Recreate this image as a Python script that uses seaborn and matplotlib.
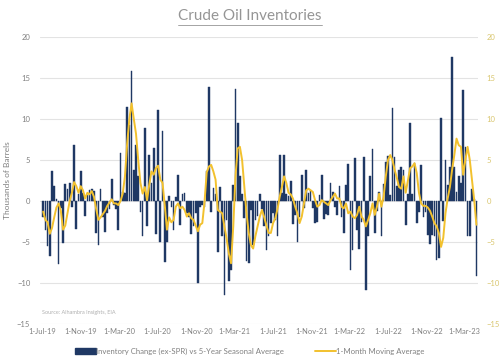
import matplotlib
matplotlib.use("Agg")
import pandas as pd
import matplotlib.pyplot as plt
import matplotlib.dates as mdates
from matplotlib.lines import Line2D
from matplotlib.patches import Patch
import seaborn as sns

# Weekly crude inventory change (ex-SPR) vs 5-yr seasonal avg
inv_change = [
    -2.0, -3.5, -5.5, -6.7, 3.7, 1.8, 0.3, -7.7, -0.8, -5.1, 2.1, 1.5, 2.2, -0.7, 6.8, -3.4,
    0.8, 3.6, 1.0, -1.8, 0.7, 1.3, 1.5, 1.2, -3.9, -5.4, 1.5, -2.0, -3.8, -1.5, -1.0, 2.7,
    -0.5, -1.0, -3.6, 5.8, 1.1, 1.0, 11.4, 9.3, 15.8, 3.8, 6.8, 3.0, -1.3, -4.3, 8.9, -3.1,
    5.6, 2.2, 6.5, -4.0, 11.1, -5.0, 8.5, -7.4, -5.0, 0.6, -0.7, -3.5, 0.5, 3.2, -2.9, 0.9,
    1.0, -1.5,
    -1.9, -4.0, -3.1, -1.5, -10.0, -0.7, -0.5, -0.7, 3.6, 13.9, -1.3, 1.6, 0.9, -6.2, 1.7, -4.3,
    -11.5, -2.3, -9.8, -8.4, 1.9, 13.7, 9.5, 3.0, 0.9, -2.1, -7.3, -7.6, -1.1, -5.4, -2.3, -1.8,
    0.9, -1.0,
    -3.1, -6.0, -4.3, -2.7, -1.5, -2.3, -4.3, 5.6, 1.0, 5.6, 0.9, 0.6, 2.4, -2.8, -1.7, -5.0,
    -2.0, 3.2, -0.9, 3.8, 1.0, 1.3, -0.8, -2.7, -2.6, 0.7, 3.2, -2.2, -1.6, -1.7, 2.2, 1.1, -0.7,
    -1.7, 1.8, -2.0, -3.9, 2.0, 4.5, -8.4, -6.0, 5.2, -3.5, -5.9, -2.6, 5.4, -10.9, -4.3, 3.0,
    6.3, -3.9, -1.2, 1.1, -4.3, 2.1, 4.7, 5.5, 0.7, 11.3, 5.4, 1.8, 3.8, 4.2, 3.8, -2.9, 0.9, 9.5,
    0.8, 4.6, -2.7, -1.3, 4.4, -1.9, -1.3, -4.1, -5.2, -4.1, -4.3, -7.2, -7.0, 10.1, -2.5, 5.0,
    2.0, 4.2, 17.5, 4.2, 1.1, 3.0, 2.2, 13.5, 6.6, -4.3, -4.3, 1.5, 0.3, -9.2,
]

# 1-month moving average line (secondary axis)
moving_avg = [
    -1.3, -2.3, -2.6, -4.0, -3.3, -2.0, -0.8, -0.3, -1.2, -3.5, -3.0, -1.5, 0.0, 1.0, 2.3, 1.8,
    1.0, 1.8, 1.3, 0.3, 1.0, 0.8, 1.2, 0.5, -1.0, -2.3, -2.0, -1.6, -1.2, -0.6, -0.2, 0.2,
    -0.3, -0.3, -0.5, 0.0, 0.9, 3.0, 7.0, 10.0, 11.9, 10.0, 8.2, 5.0, 2.2, 0.9, 1.7, 0.1,
    2.0, 3.6, 3.2, 4.0, 4.3, 2.6, 2.2, -0.5, -3.5, -2.0, -2.6, -2.3, -0.7, -0.3, -0.9, -0.7,
    -1.1, -1.9,
    -1.5, -2.1, -2.3, -3.0, -3.7, -2.9, -2.7, -0.1, 3.5, 4.2, 4.4, 3.6, 2.6, -1.1, -1.3, -1.5,
    -3.1, -4.6, -6.4, -7.6, -3.1, 3.0, 6.4, 6.6, 5.0, 1.7, -1.5, -3.9, -5.4, -5.8, -4.3, -3.1,
    -1.9, -1.1,
    -2.0, -3.0, -3.9, -3.9, -2.7, -2.1, -1.0, 0.5, 1.7, 3.0, 2.2, 1.0, 0.8, 0.3, -0.7, -1.5,
    -2.7, -1.9, -0.3, 1.3, 1.5, 1.3, 1.1, 0.1, -0.7, -0.5, 0.1, -0.1, -0.3, -0.5, 0.1, 0.5, 0.9,
    0.3, 0.3, -0.7, -0.9, -0.3, -1.5, -1.3, -1.9, -2.1, -1.7, -0.7, -1.9, -2.3, -3.1, -2.3, -1.5,
    -0.3, -1.7, -0.7, 0.9, -0.7, 0.5, 3.0, 5.0, 5.6, 5.0, 3.8, 2.8, 1.7, 1.5, 3.0, 1.0, 2.5, 4.0,
    4.2, 4.6, 3.4, 1.0, -0.3, -0.6, -0.6, -0.8, -1.2, -1.9, -2.7, -3.1, -3.9, -5.6, -4.5, -1.5,
    0.3, 1.7, 3.8, 5.6, 7.6, 6.8, 6.6, 3.2, 5.0, 6.6, 5.0, 2.6, 0.1, -2.9,
]

start_date = "2019-07-05"
tick_dates = ["2019-07-01", "2019-11-01", "2020-03-01", "2020-07-01", "2020-11-01", "2021-03-01",
              "2021-07-01", "2021-11-01", "2022-03-01", "2022-07-01", "2022-11-01", "2023-03-01"]
tick_labels = ["1-Jul-19", "1-Nov-19", "1-Mar-20", "1-Jul-20", "1-Nov-20", "1-Mar-21",
               "1-Jul-21", "1-Nov-21", "1-Mar-22", "1-Jul-22", "1-Nov-22", "1-Mar-23"]
y_ticks = [-15, -10, -5, 0, 5, 10, 15, 20]

NAVY = "#1f3864"
GOLD = "#f2c12e"
GREY = "#808080"
PALE_GOLD = "#d9c66e"

dates = pd.date_range(start_date, periods=len(inv_change), freq="7D")
df = pd.DataFrame({
    "x": mdates.date2num(dates),
    "change": inv_change,
    "ma": moving_avg,
})

sns.set_theme(style="white")
plt.rcParams["font.family"] = ["Lato", "DejaVu Sans"]

fig = plt.figure(figsize=(5, 3.62), dpi=100)
ax = fig.add_axes([0.08, 0.105, 0.876, 0.793])
ax2 = ax.twinx()

sns.barplot(data=df, x="x", y="change", native_scale=True, color=NAVY, saturation=1,
            width=0.75, errorbar=None, edgecolor=NAVY, linewidth=0.3, ax=ax)
sns.lineplot(data=df, x="x", y="ma", color=GOLD, linewidth=1.4, ax=ax2)

for a in (ax, ax2):
    a.set_ylim(-15, 20)
    a.set_yticks(y_ticks)
    a.set_xlim(mdates.date2num(pd.Timestamp("2019-06-25")), mdates.date2num(pd.Timestamp("2023-04-12")))
    for s in a.spines.values():
        s.set_visible(False)
    a.set_xlabel("")
    a.set_ylabel("")

ax.yaxis.grid(True, color="#e3e3e3", linewidth=0.8)
ax.set_axisbelow(True)
ax.set_xticks(mdates.date2num(pd.to_datetime(tick_dates)))
ax.set_xticklabels(tick_labels)
ax.tick_params(axis="x", length=0, labelsize=5.4, colors=GREY, pad=3)
ax.tick_params(axis="y", length=0, labelsize=5.5, colors=GREY, pad=7)
ax2.tick_params(axis="y", length=0, labelsize=5.5, colors=PALE_GOLD, pad=6)
ax.set_ylabel("Thousands of Barrels", fontsize=6, color=GREY, labelpad=4)

ax.text(0.004, 0.035, "Source: Alhambra Insights, EIA", transform=ax.transAxes,
        fontsize=4, color="#b0b0b0")

title = fig.text(0.5, 0.955, "Crude Oil Inventories", ha="center", va="center",
                 fontsize=11, color="#959595")
fig.canvas.draw()
bb = title.get_window_extent().transformed(fig.transFigure.inverted())
fig.add_artist(Line2D([bb.x0, bb.x1], [bb.y0 - 0.004, bb.y0 - 0.004],
                      color="#959595", linewidth=0.6, transform=fig.transFigure))

handles = [Patch(facecolor=NAVY, edgecolor=NAVY),
           Line2D([0], [0], color=GOLD, linewidth=1.4)]
labels = ["Inventory Change (ex-SPR) vs 5-Year Seasonal Average", "1-Month Moving Average"]
fig.legend(handles, labels, loc="lower center", bbox_to_anchor=(0.5, 0.0), ncol=2,
           frameon=False, fontsize=5.6, labelcolor=GREY, handlelength=2.6,
           handletextpad=0.1, columnspacing=4)

fig.savefig("out.png", dpi=100)
